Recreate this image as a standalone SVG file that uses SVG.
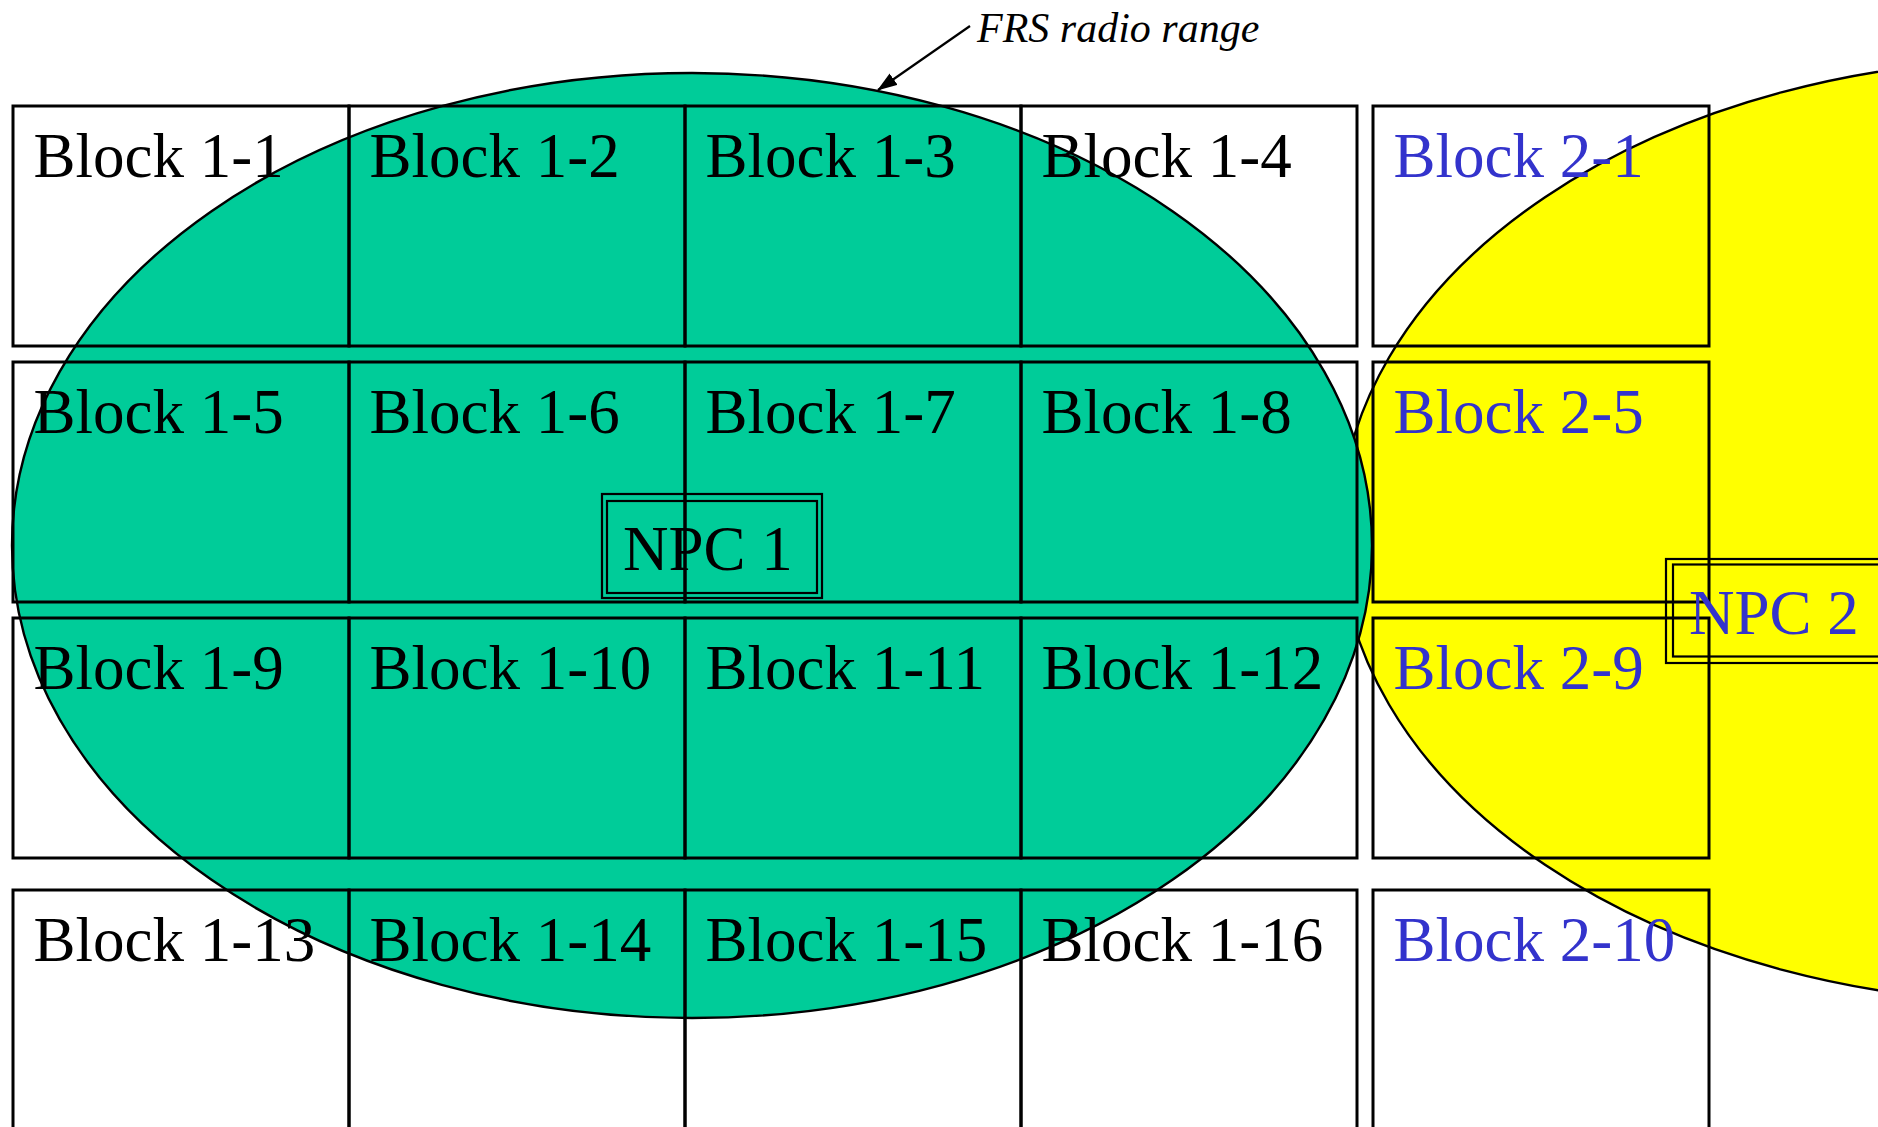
<svg xmlns="http://www.w3.org/2000/svg" width="1878" height="1127" viewBox="0 0 1878 1127">
<defs>
<style>
.blk{fill:none;stroke:#000;stroke-width:3}
.t{font-family:"Liberation Serif","Times New Roman",serif;font-size:63px;fill:#000}
.t2{font-family:"Liberation Serif","Times New Roman",serif;font-size:63px;fill:#3333CC}
.npc{fill:none;stroke:#000;stroke-width:2.2}
.range{stroke:#000;stroke-width:2.4}
.lbl{font-family:"Liberation Serif","Times New Roman",serif;font-size:42px;font-style:italic;fill:#000}
</style>
<marker id="arr" viewBox="0 0 20 14" refX="19" refY="7" markerWidth="20" markerHeight="14" markerUnits="userSpaceOnUse" orient="auto">
<path d="M0,0 L20,7 L0,14 z" fill="#000"/>
</marker>
</defs>
<rect width="1878" height="1127" fill="#fff"/>
<g id="range-2"><ellipse class="range" cx="2040" cy="531" rx="700" ry="472" fill="#FFFF00"/></g>
<g id="range-1"><ellipse class="range" cx="692" cy="545.5" rx="680" ry="472.5" fill="#00CC99"/></g>

<g id="block-1-1"><rect class="blk" x="13" y="106" width="336" height="240"/><text class="t" x="33.5" y="177">Block 1-1</text></g>
<g id="block-1-2"><rect class="blk" x="349" y="106" width="336" height="240"/><text class="t" x="369.5" y="177">Block 1-2</text></g>
<g id="block-1-3"><rect class="blk" x="685" y="106" width="336" height="240"/><text class="t" x="705.5" y="177">Block 1-3</text></g>
<g id="block-1-4"><rect class="blk" x="1021" y="106" width="336" height="240"/><text class="t" x="1041.5" y="177">Block 1-4</text></g>
<g id="block-2-1"><rect class="blk" x="1373" y="106" width="336" height="240"/><text class="t2" x="1393.5" y="177">Block 2-1</text></g>

<g id="block-1-5"><rect class="blk" x="13" y="362" width="336" height="240"/><text class="t" x="33.5" y="433">Block 1-5</text></g>
<g id="block-1-6"><rect class="blk" x="349" y="362" width="336" height="240"/><text class="t" x="369.5" y="433">Block 1-6</text></g>
<g id="block-1-7"><rect class="blk" x="685" y="362" width="336" height="240"/><text class="t" x="705.5" y="433">Block 1-7</text></g>
<g id="block-1-8"><rect class="blk" x="1021" y="362" width="336" height="240"/><text class="t" x="1041.5" y="433">Block 1-8</text></g>
<g id="block-2-5"><rect class="blk" x="1373" y="362" width="336" height="240"/><text class="t2" x="1393.5" y="433">Block 2-5</text></g>

<g id="block-1-9"><rect class="blk" x="13" y="618" width="336" height="240"/><text class="t" x="33.5" y="689">Block 1-9</text></g>
<g id="block-1-10"><rect class="blk" x="349" y="618" width="336" height="240"/><text class="t" x="369.5" y="689">Block 1-10</text></g>
<g id="block-1-11"><rect class="blk" x="685" y="618" width="336" height="240"/><text class="t" x="705.5" y="689">Block 1-11</text></g>
<g id="block-1-12"><rect class="blk" x="1021" y="618" width="336" height="240"/><text class="t" x="1041.5" y="689">Block 1-12</text></g>
<g id="block-2-9"><rect class="blk" x="1373" y="618" width="336" height="240"/><text class="t2" x="1393.5" y="689">Block 2-9</text></g>

<g id="block-1-13"><rect class="blk" x="13" y="890" width="336" height="240"/><text class="t" x="33.5" y="961">Block 1-13</text></g>
<g id="block-1-14"><rect class="blk" x="349" y="890" width="336" height="240"/><text class="t" x="369.5" y="961">Block 1-14</text></g>
<g id="block-1-15"><rect class="blk" x="685" y="890" width="336" height="240"/><text class="t" x="705.5" y="961">Block 1-15</text></g>
<g id="block-1-16"><rect class="blk" x="1021" y="890" width="336" height="240"/><text class="t" x="1041.5" y="961">Block 1-16</text></g>
<g id="block-2-10"><rect class="blk" x="1373" y="890" width="336" height="240"/><text class="t2" x="1393.5" y="961">Block 2-10</text></g>

<g id="npc-1">
<rect class="npc" x="602" y="494" width="220" height="104"/>
<rect class="npc" x="607" y="501" width="210" height="92"/>
<text class="t" x="623" y="570">NPC 1</text>
</g>
<g id="npc-2">
<rect class="npc" x="1666" y="559" width="220" height="104"/>
<rect class="npc" x="1673" y="564.5" width="210" height="92"/>
<text class="t2" x="1689" y="634">NPC 2</text>
</g>

<g id="connectors">
<line x1="970" y1="26" x2="878" y2="90" stroke="#000" stroke-width="2.2" marker-end="url(#arr)"/>
</g>
<g id="label-frs"><text class="lbl" x="977" y="42">FRS radio range</text></g>
</svg>
